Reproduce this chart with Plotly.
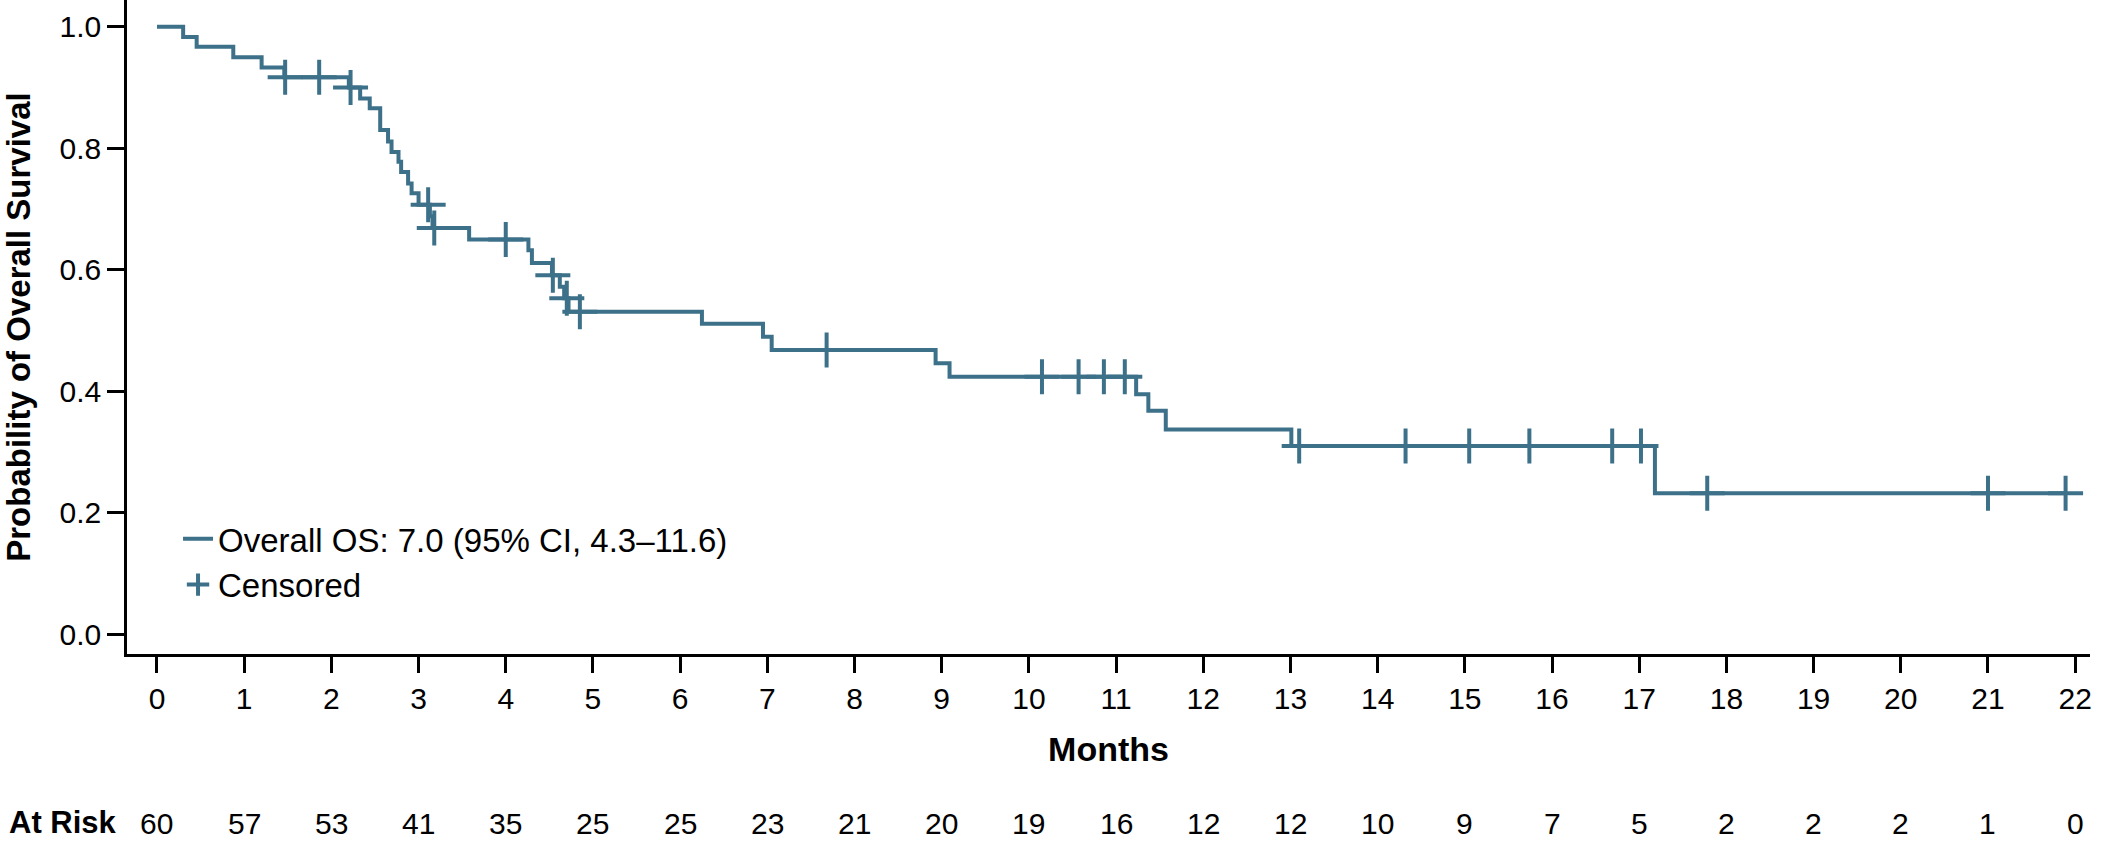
import plotly.graph_objects as go

# ---- data ----
event_months = [0, 0.30, 0.455, 0.875, 1.20, 1.46, 2.20, 2.33, 2.44, 2.56, 2.65, 2.69,
                2.77, 2.80, 2.88, 2.92, 3.00, 3.13, 3.16, 3.58, 4.26, 4.30, 4.53, 4.62,
                4.67, 4.72, 6.25, 6.95, 7.05, 8.93, 9.09, 11.23, 11.37, 11.57, 13.01, 17.18]
survival = [1.0, 0.983, 0.967, 0.950, 0.933, 0.917, 0.900, 0.882, 0.866, 0.830, 0.811, 0.794,
            0.778, 0.761, 0.742, 0.726, 0.707, 0.688, 0.669, 0.650, 0.632, 0.611, 0.591, 0.572,
            0.553, 0.531, 0.511, 0.490, 0.468, 0.446, 0.424, 0.395, 0.368, 0.337, 0.310, 0.232]
censor_months = [1.47, 1.86, 2.22, 3.11, 3.18, 4.00, 4.54, 4.70, 4.85, 7.68, 10.15, 10.57,
                 10.86, 11.10, 13.10, 14.32, 15.05, 15.74, 16.69, 17.02, 17.78, 21.00, 21.89]
risk_months = list(range(0, 23))
at_risk = [60, 57, 53, 41, 35, 25, 25, 23, 21, 20, 19, 16, 12, 12, 10, 9, 7, 5, 2, 2, 2, 1, 0]
y_ticks = [0.0, 0.2, 0.4, 0.6, 0.8, 1.0]

COLOR = "#3d7189"
FONT = "Arial, Liberation Sans, sans-serif"


def surv_at(t):
    s = survival[0]
    for tm, sv in zip(event_months, survival):
        if tm <= t:
            s = sv
    return s


line_x = event_months + [censor_months[-1]]
line_y = survival + [survival[-1]]
censor_y = [surv_at(t) for t in censor_months]

fig = go.Figure()
fig.add_trace(go.Scatter(
    x=line_x, y=line_y, mode="lines", line=dict(color=COLOR, width=4, shape="hv"),
    name="Overall OS: 7.0 (95% CI, 4.3\u201311.6)"))
fig.add_trace(go.Scatter(
    x=censor_months, y=censor_y, mode="markers",
    marker=dict(symbol="cross-thin", size=25, line=dict(color=COLOR, width=4)),
    name="Censored"))

# At-risk row
for m, n in zip(risk_months, at_risk):
    fig.add_annotation(x=m, y=-0.287, xref="x", yref="paper", text=str(n), showarrow=False,
                       font=dict(size=30, color="black", family=FONT), xanchor="center",
                       yanchor="bottom")
fig.add_annotation(x=-0.061, y=-0.287, xref="paper", yref="paper", text="<b>At Risk</b>",
                   showarrow=False, font=dict(size=31, color="black", family=FONT),
                   xanchor="left", yanchor="bottom")

fig.update_layout(
    width=2103, height=844,
    margin=dict(l=127, r=13, t=0, b=190),
    paper_bgcolor="white", plot_bgcolor="white",
    font=dict(family=FONT, color="black"),
    showlegend=True,
    legend=dict(x=0.026, y=0.219, xanchor="left", yanchor="top",
                bgcolor="rgba(0,0,0,0)", font=dict(size=33, family=FONT, color="black"),
                tracegroupgap=0),
    xaxis=dict(range=[-0.344, 22.17], tickmode="array", tickvals=risk_months,
               ticktext=[str(m) for m in risk_months], automargin=False,
               showline=True, linecolor="black", linewidth=2.5, mirror=False,
               ticks="outside", ticklen=16, tickwidth=2.5, tickcolor="black",
               showgrid=False, zeroline=False, tickfont=dict(size=30),
               title=dict(text="<b>Months</b>", font=dict(size=34), standoff=24)),
    yaxis=dict(range=[-0.0324, 1.0441], tickmode="array", tickvals=y_ticks,
               ticktext=[f"{v:.1f}" for v in y_ticks], automargin=False,
               showline=True, linecolor="black", linewidth=2.5,
               ticks="outside", ticklen=17, tickwidth=2.5, tickcolor="black",
               showgrid=False, zeroline=False, tickfont=dict(size=30),
               title=dict(text="<b>Probability of Overall Survival</b>", font=dict(size=33),
                          standoff=30)),
)

fig.write_html("out.html", config={"displayModeBar": False},
               post_script="document.body.style.margin='0';document.body.style.overflow='hidden';")
